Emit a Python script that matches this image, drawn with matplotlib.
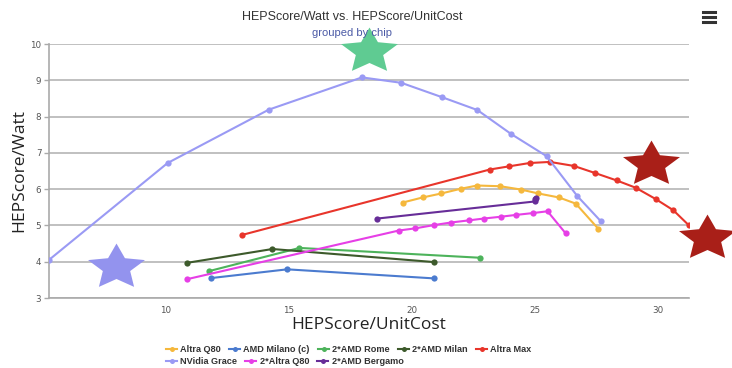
#!/usr/bin/env python3
"""HEPScore/Watt vs. HEPScore/UnitCost, grouped by chip."""

import numpy as np
import matplotlib
matplotlib.use("Agg")
import matplotlib.pyplot as plt
from matplotlib.lines import Line2D
from matplotlib.path import Path

# --- data ----------------------------------------------------------------
altra_q80_x = [19.63, 20.44, 21.2, 21.99, 22.66, 23.6, 24.43, 25.15, 25.99, 26.67, 27.58]
altra_q80_y = [5.63, 5.77, 5.88, 6.01, 6.10, 6.08, 5.99, 5.88, 5.77, 5.60, 4.91]

milano_x = [11.86, 14.94, 20.91]
milano_y = [3.55, 3.79, 3.54]

rome_x = [11.76, 15.44, 22.76]
rome_y = [3.74, 4.38, 4.11]

milan_x = [10.88, 14.34, 20.91]
milan_y = [3.97, 4.35, 3.99]

altra_max_x = [13.12, 23.17, 23.97, 24.79, 25.62, 26.59, 27.47, 28.33, 29.1, 29.91, 30.63, 31.27]
altra_max_y = [4.74, 6.54, 6.63, 6.72, 6.75, 6.64, 6.44, 6.24, 6.04, 5.73, 5.42, 5.00]

grace_x = [5.26, 10.08, 14.19, 17.98, 19.58, 21.25, 22.67, 24.04, 25.48, 26.73, 27.68]
grace_y = [4.05, 6.72, 8.19, 9.08, 8.93, 8.53, 8.18, 7.52, 6.91, 5.81, 5.12]

altra2_x = [10.88, 19.48, 20.15, 20.91, 21.59, 22.33, 22.93, 23.63, 24.24, 24.92, 25.52, 26.26]
altra2_y = [3.52, 4.86, 4.92, 5.01, 5.08, 5.14, 5.19, 5.24, 5.29, 5.34, 5.39, 4.78]

bergamo_x = [18.61, 25.0, 25.02, 25.04]
bergamo_y = [5.19, 5.66, 5.72, 5.76]

# highlight stars pasted on the slide (data coordinates)
star_x = [18.27, 8.0, 29.73, 31.99]
star_y = [9.81, 3.85, 6.68, 4.66]
star_colors = ["#5fcb92", "#9393ee", "#a91f18", "#a91f18"]

SERIES = [
    ("Altra Q80", altra_q80_x, altra_q80_y, "#f5b83d"),
    ("AMD Milano (c)", milano_x, milano_y, "#4b7bcf"),
    ("2*AMD Rome", rome_x, rome_y, "#4db35b"),
    ("2*AMD Milan", milan_x, milan_y, "#3d5a2b"),
    ("Altra Max", altra_max_x, altra_max_y, "#e8352b"),
    ("NVidia Grace", grace_x, grace_y, "#9a9af4"),
    ("2*Altra Q80", altra2_x, altra2_y, "#e63fe6"),
    ("2*AMD Bergamo", bergamo_x, bergamo_y, "#672d98"),
]


def star_marker(inner=0.48, squash=0.8):
    ang = np.deg2rad(90 + 36 * np.arange(10))
    r = np.where(np.arange(10) % 2 == 0, 1.0, inner)
    verts = np.column_stack([r * np.cos(ang), squash * r * np.sin(ang)])
    verts = np.vstack([verts, verts[:1]])
    codes = [Path.MOVETO] + [Path.LINETO] * 9 + [Path.CLOSEPOLY]
    return Path(verts, codes)


W, H = 732, 368
fig = plt.figure(figsize=(W / 100, H / 100), dpi=100)
ax = fig.add_axes([49 / W, (H - 298) / H, (689 - 49) / W, (298 - 44) / H])

handles = {}
for name, xs, ys, col in SERIES:
    (h,) = ax.plot(xs, ys, color=col, linewidth=1.5, marker="o",
                   markersize=4.5, markeredgewidth=0, label=name, zorder=3)
    handles[name] = h

STAR = star_marker()
for sx, sy, sc in zip(star_x, star_y, star_colors):
    ax.plot([sx], [sy], marker=STAR, markersize=41, color=sc, markeredgewidth=0,
            linestyle="none", zorder=5, clip_on=False)

ax.set_xlim(5.26, 31.27)
ax.set_ylim(3, 10)
ax.set_xticks([10, 15, 20, 25, 30])
ax.set_yticks(range(3, 11))
ax.grid(axis="y", color="#b5b5b5", linewidth=1.2)
ax.set_axisbelow(True)
for side in ("top", "right"):
    ax.spines[side].set_visible(False)
for side in ("left", "bottom"):
    ax.spines[side].set_color("#aaaaaa")
    ax.spines[side].set_linewidth(1.2)
ax.tick_params(axis="both", labelsize=6.3, colors="#aaaaaa", labelcolor="#555555",
               length=3.5, width=1, pad=2)
ax.tick_params(axis="x", length=0, pad=6)

fig.text(369 / W, 1 - 329 / H, "HEPScore/UnitCost", ha="center", va="baseline",
         fontsize=12.5, color="#222222", family="Open Sans")
fig.text(19 / W, 1 - 171 / H, "HEPScore/Watt", ha="center", va="center",
         rotation=90, fontsize=12.5, color="#222222", family="Open Sans")

fig.text(352 / W, 1 - 17.5 / H, "HEPScore/Watt vs. HEPScore/UnitCost", ha="center",
         va="center", fontsize=9, color="#333333", family="Liberation Sans")
fig.text(352 / W, 1 - 33 / H, "grouped by chip", ha="center", va="center",
         fontsize=8, color="#4b5aa6", family="Liberation Sans")

# hamburger menu icon
for yy in (12, 17, 22):
    fig.add_artist(Line2D([703 / W, 715 / W], [1 - yy / H, 1 - yy / H],
                          color="#333333", linewidth=2.2))

row1 = ["Altra Q80", "AMD Milano (c)", "2*AMD Rome", "2*AMD Milan", "Altra Max"]
row2 = ["NVidia Grace", "2*Altra Q80", "2*AMD Bergamo"]
leg_kw = dict(frameon=False, handlelength=1.2, handletextpad=0.35,
              columnspacing=0.9, borderpad=0, borderaxespad=0,
              prop={"weight": "bold", "size": 6.6, "family": "Liberation Sans"},
              markerscale=0.8, bbox_transform=fig.transFigure, loc="upper left")
leg1 = fig.legend([handles[n] for n in row1], row1, ncol=5,
                  bbox_to_anchor=(166 / W, 1 - 345 / H), **leg_kw)
leg2 = fig.legend([handles[n] for n in row2], row2, ncol=3,
                  bbox_to_anchor=(166 / W, 1 - 357 / H), **leg_kw)
for leg in (leg1, leg2):
    for t in leg.get_texts():
        t.set_color("#333333")

fig.savefig("out.png", dpi=100)
